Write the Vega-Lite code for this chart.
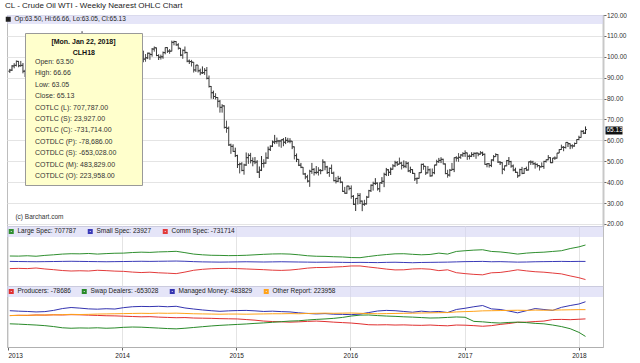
{
"$schema": "https://vega.github.io/schema/vega-lite/v6.json",
"background": "white",
"padding": {"left": 4, "top": 1, "right": 0, "bottom": 0},
"bounds": "flush",
"spacing": 0,
"title": {"text": "CL - Crude Oil WTI - Weekly Nearest OHLC Chart", "anchor": "start", "frame": "group", "font": "Liberation Sans", "fontSize": 8, "fontWeight": "normal", "color": "#222", "offset": 2, "dx": -2},
"resolve": {"scale": {"color": "independent", "y": "independent"}, "legend": {"color": "independent"}},
"config": {
  "view": {"stroke": "#bdbdbd", "strokeWidth": 1},
  "font": "Liberation Sans",
  "axis": {"labelFont": "Liberation Sans", "labelFontSize": 6.5, "labelColor": "#333", "gridColor": "#e4e4e4", "tickColor": "#666", "domainColor": "#c8c8c8"},
  "legend": {"labelFont": "Liberation Sans", "titleFont": "Liberation Sans"}
},
"datasets": {
"ohlc": [
{"d":"2013-01-07","o":93.1,"h":94.2,"l":92.3,"c":93.6},
{"d":"2013-01-14","o":93.6,"h":96.0,"l":93.2,"c":95.6},
{"d":"2013-01-21","o":95.6,"h":96.9,"l":94.5,"c":95.9},
{"d":"2013-01-28","o":95.9,"h":98.2,"l":95.4,"c":97.8},
{"d":"2013-02-04","o":97.8,"h":98.0,"l":95.0,"c":95.7},
{"d":"2013-02-11","o":95.7,"h":98.0,"l":95.3,"c":95.9},
{"d":"2013-02-18","o":95.9,"h":97.0,"l":92.1,"c":93.1},
{"d":"2013-02-25","o":93.1,"h":93.8,"l":90.3,"c":90.7},
{"d":"2013-03-04","o":90.7,"h":92.5,"l":89.3,"c":91.9},
{"d":"2013-03-11","o":91.9,"h":94.0,"l":91.4,"c":93.5},
{"d":"2013-03-18","o":93.5,"h":94.3,"l":91.9,"c":93.7},
{"d":"2013-03-25","o":93.7,"h":97.8,"l":93.5,"c":97.2},
{"d":"2013-04-01","o":97.2,"h":97.8,"l":92.3,"c":92.7},
{"d":"2013-04-08","o":92.7,"h":94.9,"l":90.8,"c":91.3},
{"d":"2013-04-15","o":91.3,"h":91.6,"l":86.1,"c":88.0},
{"d":"2013-04-22","o":88.0,"h":93.5,"l":87.4,"c":93.0},
{"d":"2013-04-29","o":93.0,"h":96.2,"l":90.4,"c":95.6},
{"d":"2013-05-06","o":95.6,"h":97.1,"l":94.8,"c":96.0},
{"d":"2013-05-13","o":96.0,"h":96.6,"l":93.3,"c":96.0},
{"d":"2013-05-20","o":96.0,"h":96.9,"l":93.0,"c":94.2},
{"d":"2013-05-27","o":94.2,"h":95.6,"l":90.9,"c":92.0},
{"d":"2013-06-03","o":92.0,"h":96.2,"l":91.4,"c":96.0},
{"d":"2013-06-10","o":96.0,"h":98.3,"l":94.8,"c":97.9},
{"d":"2013-06-17","o":97.9,"h":99.0,"l":93.0,"c":93.7},
{"d":"2013-06-24","o":93.7,"h":97.2,"l":93.0,"c":96.6},
{"d":"2013-07-01","o":96.6,"h":103.8,"l":95.9,"c":103.2},
{"d":"2013-07-08","o":103.2,"h":106.3,"l":100.9,"c":106.0},
{"d":"2013-07-15","o":106.0,"h":108.9,"l":104.9,"c":108.1},
{"d":"2013-07-22","o":108.1,"h":108.5,"l":103.6,"c":104.7},
{"d":"2013-07-29","o":104.7,"h":107.4,"l":103.9,"c":106.9},
{"d":"2013-08-05","o":106.9,"h":107.3,"l":102.2,"c":106.0},
{"d":"2013-08-12","o":106.0,"h":108.2,"l":104.8,"c":107.5},
{"d":"2013-08-19","o":107.5,"h":107.9,"l":103.0,"c":106.4},
{"d":"2013-08-26","o":106.4,"h":112.2,"l":105.5,"c":107.7},
{"d":"2013-09-02","o":107.7,"h":110.7,"l":106.4,"c":110.5},
{"d":"2013-09-09","o":110.5,"h":110.5,"l":106.8,"c":108.2},
{"d":"2013-09-16","o":108.2,"h":109.0,"l":104.2,"c":104.7},
{"d":"2013-09-23","o":104.7,"h":105.0,"l":101.9,"c":102.9},
{"d":"2013-09-30","o":102.9,"h":104.4,"l":100.9,"c":103.8},
{"d":"2013-10-07","o":103.8,"h":104.3,"l":101.2,"c":102.0},
{"d":"2013-10-14","o":102.0,"h":103.1,"l":100.3,"c":100.8},
{"d":"2013-10-21","o":100.8,"h":101.3,"l":96.7,"c":97.9},
{"d":"2013-10-28","o":97.9,"h":98.5,"l":94.3,"c":94.6},
{"d":"2013-11-04","o":94.6,"h":95.7,"l":93.6,"c":94.6},
{"d":"2013-11-11","o":94.6,"h":95.5,"l":92.5,"c":93.8},
{"d":"2013-11-18","o":93.8,"h":95.6,"l":92.5,"c":94.8},
{"d":"2013-11-25","o":94.8,"h":95.0,"l":91.8,"c":92.7},
{"d":"2013-12-02","o":92.7,"h":98.0,"l":92.3,"c":97.7},
{"d":"2013-12-09","o":97.7,"h":98.7,"l":96.1,"c":96.6},
{"d":"2013-12-16","o":96.6,"h":99.5,"l":96.2,"c":99.3},
{"d":"2013-12-23","o":99.3,"h":100.6,"l":98.6,"c":100.3},
{"d":"2013-12-30","o":100.3,"h":100.4,"l":93.6,"c":94.0},
{"d":"2014-01-06","o":94.0,"h":94.5,"l":91.2,"c":92.7},
{"d":"2014-01-13","o":92.7,"h":94.8,"l":91.2,"c":94.4},
{"d":"2014-01-20","o":94.4,"h":97.8,"l":94.1,"c":96.6},
{"d":"2014-01-27","o":96.6,"h":98.2,"l":95.2,"c":97.5},
{"d":"2014-02-03","o":97.5,"h":100.4,"l":96.1,"c":99.9},
{"d":"2014-02-10","o":99.9,"h":100.9,"l":98.9,"c":100.3},
{"d":"2014-02-17","o":100.3,"h":103.4,"l":99.6,"c":102.2},
{"d":"2014-02-24","o":102.2,"h":103.0,"l":100.6,"c":102.6},
{"d":"2014-03-03","o":102.6,"h":105.2,"l":100.6,"c":102.6},
{"d":"2014-03-10","o":102.6,"h":102.9,"l":97.4,"c":98.9},
{"d":"2014-03-17","o":98.9,"h":101.3,"l":97.7,"c":99.5},
{"d":"2014-03-24","o":99.5,"h":102.0,"l":98.9,"c":101.7},
{"d":"2014-03-31","o":101.7,"h":101.9,"l":98.6,"c":101.1},
{"d":"2014-04-07","o":101.1,"h":104.2,"l":100.1,"c":103.7},
{"d":"2014-04-14","o":103.7,"h":104.9,"l":102.5,"c":104.3},
{"d":"2014-04-21","o":104.3,"h":104.4,"l":100.3,"c":100.6},
{"d":"2014-04-28","o":100.6,"h":101.2,"l":98.5,"c":99.8},
{"d":"2014-05-05","o":99.8,"h":101.0,"l":98.7,"c":100.0},
{"d":"2014-05-12","o":100.0,"h":102.5,"l":99.1,"c":102.0},
{"d":"2014-05-19","o":102.0,"h":104.5,"l":101.2,"c":104.4},
{"d":"2014-05-26","o":104.4,"h":104.6,"l":101.9,"c":102.7},
{"d":"2014-06-02","o":102.7,"h":103.7,"l":101.5,"c":102.7},
{"d":"2014-06-09","o":102.7,"h":107.7,"l":102.6,"c":106.9},
{"d":"2014-06-16","o":106.9,"h":107.7,"l":105.5,"c":107.3},
{"d":"2014-06-23","o":107.3,"h":107.5,"l":105.3,"c":105.7},
{"d":"2014-06-30","o":105.7,"h":106.5,"l":103.5,"c":104.1},
{"d":"2014-07-07","o":104.1,"h":104.2,"l":100.3,"c":100.8},
{"d":"2014-07-14","o":100.8,"h":103.5,"l":99.1,"c":103.1},
{"d":"2014-07-21","o":103.1,"h":104.9,"l":101.5,"c":102.1},
{"d":"2014-07-28","o":102.1,"h":102.3,"l":97.4,"c":97.9},
{"d":"2014-08-04","o":97.9,"h":98.7,"l":96.6,"c":97.7},
{"d":"2014-08-11","o":97.7,"h":98.5,"l":95.4,"c":97.4},
{"d":"2014-08-18","o":97.4,"h":97.5,"l":92.5,"c":93.7},
{"d":"2014-08-25","o":93.7,"h":96.1,"l":92.8,"c":96.0},
{"d":"2014-09-01","o":96.0,"h":96.0,"l":92.5,"c":93.3},
{"d":"2014-09-08","o":93.3,"h":94.3,"l":91.2,"c":92.3},
{"d":"2014-09-15","o":92.3,"h":95.4,"l":91.8,"c":92.4},
{"d":"2014-09-22","o":92.4,"h":94.6,"l":91.4,"c":93.5},
{"d":"2014-09-29","o":93.5,"h":95.1,"l":89.2,"c":89.7},
{"d":"2014-10-06","o":89.7,"h":91.0,"l":85.3,"c":85.8},
{"d":"2014-10-13","o":85.8,"h":86.0,"l":80.0,"c":82.8},
{"d":"2014-10-20","o":82.8,"h":83.8,"l":79.8,"c":81.0},
{"d":"2014-10-27","o":81.0,"h":82.5,"l":79.6,"c":80.5},
{"d":"2014-11-03","o":80.5,"h":80.6,"l":75.8,"c":78.7},
{"d":"2014-11-10","o":78.7,"h":79.3,"l":73.3,"c":75.8},
{"d":"2014-11-17","o":75.8,"h":77.3,"l":73.3,"c":76.5},
{"d":"2014-11-24","o":76.5,"h":76.7,"l":65.7,"c":66.2},
{"d":"2014-12-01","o":66.2,"h":69.4,"l":63.7,"c":65.8},
{"d":"2014-12-08","o":65.8,"h":66.6,"l":57.4,"c":57.8},
{"d":"2014-12-15","o":57.8,"h":58.4,"l":53.6,"c":57.1},
{"d":"2014-12-22","o":57.1,"h":58.1,"l":54.5,"c":54.7},
{"d":"2014-12-29","o":54.7,"h":56.5,"l":52.0,"c":52.7},
{"d":"2015-01-05","o":52.7,"h":53.1,"l":46.8,"c":48.4},
{"d":"2015-01-12","o":48.4,"h":49.3,"l":44.2,"c":48.7},
{"d":"2015-01-19","o":48.7,"h":49.5,"l":45.2,"c":45.6},
{"d":"2015-01-26","o":45.6,"h":48.8,"l":43.6,"c":48.2},
{"d":"2015-02-02","o":48.2,"h":54.2,"l":47.8,"c":51.7},
{"d":"2015-02-09","o":51.7,"h":53.8,"l":48.8,"c":52.8},
{"d":"2015-02-16","o":52.8,"h":54.0,"l":49.0,"c":50.3},
{"d":"2015-02-23","o":50.3,"h":51.8,"l":47.6,"c":49.8},
{"d":"2015-03-02","o":49.8,"h":52.0,"l":48.6,"c":49.6},
{"d":"2015-03-09","o":49.6,"h":50.5,"l":44.4,"c":44.8},
{"d":"2015-03-16","o":44.8,"h":47.5,"l":42.0,"c":45.7},
{"d":"2015-03-23","o":45.7,"h":52.5,"l":45.3,"c":48.9},
{"d":"2015-03-30","o":48.9,"h":50.9,"l":47.0,"c":49.1},
{"d":"2015-04-06","o":49.1,"h":54.2,"l":48.8,"c":51.6},
{"d":"2015-04-13","o":51.6,"h":57.0,"l":51.1,"c":55.7},
{"d":"2015-04-20","o":55.7,"h":57.6,"l":54.9,"c":57.2},
{"d":"2015-04-27","o":57.2,"h":59.9,"l":56.8,"c":59.2},
{"d":"2015-05-04","o":59.2,"h":62.6,"l":58.2,"c":59.4},
{"d":"2015-05-11","o":59.4,"h":61.3,"l":58.4,"c":59.7},
{"d":"2015-05-18","o":59.7,"h":60.2,"l":57.0,"c":59.7},
{"d":"2015-05-25","o":59.7,"h":60.4,"l":56.5,"c":60.3},
{"d":"2015-06-01","o":60.3,"h":61.1,"l":57.2,"c":59.1},
{"d":"2015-06-08","o":59.1,"h":61.6,"l":58.2,"c":60.0},
{"d":"2015-06-15","o":60.0,"h":61.2,"l":58.8,"c":59.6},
{"d":"2015-06-22","o":59.6,"h":61.0,"l":58.6,"c":59.6},
{"d":"2015-06-29","o":59.6,"h":59.7,"l":55.8,"c":56.9},
{"d":"2015-07-06","o":56.9,"h":57.0,"l":50.9,"c":52.7},
{"d":"2015-07-13","o":52.7,"h":53.7,"l":49.6,"c":50.9},
{"d":"2015-07-20","o":50.9,"h":51.0,"l":47.7,"c":48.1},
{"d":"2015-07-27","o":48.1,"h":49.2,"l":46.7,"c":47.1},
{"d":"2015-08-03","o":47.1,"h":47.2,"l":43.6,"c":43.9},
{"d":"2015-08-10","o":43.9,"h":44.4,"l":41.4,"c":42.5},
{"d":"2015-08-17","o":42.5,"h":43.5,"l":39.9,"c":40.5},
{"d":"2015-08-24","o":40.5,"h":45.9,"l":37.8,"c":45.2},
{"d":"2015-08-31","o":45.2,"h":49.2,"l":44.0,"c":46.1},
{"d":"2015-09-07","o":46.1,"h":46.7,"l":43.2,"c":44.6},
{"d":"2015-09-14","o":44.6,"h":47.7,"l":43.8,"c":44.7},
{"d":"2015-09-21","o":44.7,"h":47.1,"l":43.2,"c":45.7},
{"d":"2015-09-28","o":45.7,"h":46.2,"l":43.8,"c":45.5},
{"d":"2015-10-05","o":45.5,"h":50.9,"l":45.3,"c":49.6},
{"d":"2015-10-12","o":49.6,"h":49.9,"l":45.7,"c":47.3},
{"d":"2015-10-19","o":47.3,"h":47.8,"l":43.9,"c":44.6},
{"d":"2015-10-26","o":44.6,"h":47.0,"l":42.6,"c":46.6},
{"d":"2015-11-02","o":46.6,"h":48.4,"l":44.0,"c":44.3},
{"d":"2015-11-09","o":44.3,"h":45.0,"l":40.4,"c":40.7},
{"d":"2015-11-16","o":40.7,"h":42.4,"l":39.4,"c":40.4},
{"d":"2015-11-23","o":40.4,"h":43.0,"l":40.0,"c":41.7},
{"d":"2015-11-30","o":41.7,"h":42.6,"l":39.5,"c":40.0},
{"d":"2015-12-07","o":40.0,"h":40.2,"l":35.4,"c":35.6},
{"d":"2015-12-14","o":35.6,"h":37.7,"l":34.5,"c":34.7},
{"d":"2015-12-21","o":34.7,"h":38.3,"l":34.4,"c":38.1},
{"d":"2015-12-28","o":38.1,"h":38.2,"l":36.1,"c":37.0},
{"d":"2016-01-04","o":37.0,"h":38.4,"l":32.1,"c":33.2},
{"d":"2016-01-11","o":33.2,"h":33.8,"l":29.1,"c":29.4},
{"d":"2016-01-18","o":29.4,"h":32.3,"l":26.2,"c":32.2},
{"d":"2016-01-25","o":32.2,"h":34.8,"l":29.3,"c":33.6},
{"d":"2016-02-01","o":33.6,"h":34.7,"l":29.5,"c":30.9},
{"d":"2016-02-08","o":30.9,"h":31.2,"l":26.1,"c":29.4},
{"d":"2016-02-15","o":29.4,"h":31.5,"l":28.7,"c":29.6},
{"d":"2016-02-22","o":29.6,"h":33.4,"l":29.3,"c":32.8},
{"d":"2016-02-29","o":32.8,"h":36.3,"l":32.6,"c":35.9},
{"d":"2016-03-07","o":35.9,"h":38.9,"l":35.3,"c":38.5},
{"d":"2016-03-14","o":38.5,"h":40.2,"l":36.0,"c":39.4},
{"d":"2016-03-21","o":39.4,"h":41.9,"l":38.6,"c":39.5},
{"d":"2016-03-28","o":39.5,"h":39.8,"l":36.0,"c":36.8},
{"d":"2016-04-04","o":36.8,"h":39.8,"l":35.2,"c":39.7},
{"d":"2016-04-11","o":39.7,"h":42.4,"l":39.1,"c":40.4},
{"d":"2016-04-18","o":40.4,"h":44.5,"l":37.6,"c":43.7},
{"d":"2016-04-25","o":43.7,"h":46.8,"l":42.9,"c":45.9},
{"d":"2016-05-02","o":45.9,"h":46.2,"l":43.0,"c":44.7},
{"d":"2016-05-09","o":44.7,"h":47.0,"l":43.4,"c":46.2},
{"d":"2016-05-16","o":46.2,"h":48.6,"l":46.0,"c":47.8},
{"d":"2016-05-23","o":47.8,"h":50.2,"l":47.2,"c":49.3},
{"d":"2016-05-30","o":49.3,"h":50.1,"l":47.8,"c":48.6},
{"d":"2016-06-06","o":48.6,"h":51.7,"l":48.5,"c":49.1},
{"d":"2016-06-13","o":49.1,"h":49.7,"l":46.1,"c":48.0},
{"d":"2016-06-20","o":48.0,"h":50.4,"l":46.7,"c":47.6},
{"d":"2016-06-27","o":47.6,"h":50.0,"l":46.7,"c":49.0},
{"d":"2016-07-04","o":49.0,"h":49.6,"l":44.8,"c":45.4},
{"d":"2016-07-11","o":45.4,"h":47.4,"l":44.4,"c":46.0},
{"d":"2016-07-18","o":46.0,"h":46.2,"l":43.9,"c":44.2},
{"d":"2016-07-25","o":44.2,"h":44.3,"l":40.6,"c":41.6},
{"d":"2016-08-01","o":41.6,"h":42.2,"l":39.2,"c":41.8},
{"d":"2016-08-08","o":41.8,"h":44.7,"l":41.7,"c":44.5},
{"d":"2016-08-15","o":44.5,"h":48.8,"l":44.4,"c":48.5},
{"d":"2016-08-22","o":48.5,"h":48.9,"l":46.0,"c":47.6},
{"d":"2016-08-29","o":47.6,"h":47.7,"l":43.5,"c":44.4},
{"d":"2016-09-05","o":44.4,"h":47.7,"l":44.2,"c":45.9},
{"d":"2016-09-12","o":45.9,"h":46.5,"l":42.6,"c":43.0},
{"d":"2016-09-19","o":43.0,"h":46.5,"l":42.8,"c":44.5},
{"d":"2016-09-26","o":44.5,"h":48.3,"l":43.8,"c":48.2},
{"d":"2016-10-03","o":48.2,"h":50.7,"l":48.0,"c":49.8},
{"d":"2016-10-10","o":49.8,"h":51.6,"l":49.2,"c":50.4},
{"d":"2016-10-17","o":50.4,"h":51.9,"l":49.1,"c":50.9},
{"d":"2016-10-24","o":50.9,"h":51.2,"l":48.5,"c":48.7},
{"d":"2016-10-31","o":48.7,"h":48.9,"l":43.8,"c":44.1},
{"d":"2016-11-07","o":44.1,"h":45.9,"l":42.2,"c":43.4},
{"d":"2016-11-14","o":43.4,"h":46.3,"l":42.7,"c":45.7},
{"d":"2016-11-21","o":45.7,"h":49.2,"l":45.6,"c":46.1},
{"d":"2016-11-28","o":46.1,"h":51.8,"l":44.8,"c":51.7},
{"d":"2016-12-05","o":51.7,"h":52.4,"l":49.9,"c":51.5},
{"d":"2016-12-12","o":51.5,"h":53.9,"l":49.8,"c":51.9},
{"d":"2016-12-19","o":51.9,"h":53.4,"l":51.2,"c":53.0},
{"d":"2016-12-26","o":53.0,"h":54.3,"l":52.1,"c":53.7},
{"d":"2017-01-02","o":53.7,"h":55.2,"l":52.1,"c":54.0},
{"d":"2017-01-09","o":54.0,"h":54.1,"l":50.7,"c":52.4},
{"d":"2017-01-16","o":52.4,"h":53.2,"l":50.9,"c":52.4},
{"d":"2017-01-23","o":52.4,"h":54.3,"l":52.0,"c":53.2},
{"d":"2017-01-30","o":53.2,"h":54.2,"l":52.1,"c":53.8},
{"d":"2017-02-06","o":53.8,"h":54.1,"l":51.2,"c":53.9},
{"d":"2017-02-13","o":53.9,"h":54.0,"l":52.4,"c":53.4},
{"d":"2017-02-20","o":53.4,"h":54.9,"l":53.2,"c":54.0},
{"d":"2017-02-27","o":54.0,"h":54.6,"l":52.5,"c":53.3},
{"d":"2017-03-06","o":53.3,"h":53.7,"l":48.4,"c":48.5},
{"d":"2017-03-13","o":48.5,"h":49.1,"l":47.1,"c":48.8},
{"d":"2017-03-20","o":48.8,"h":49.1,"l":47.0,"c":48.0},
{"d":"2017-03-27","o":48.0,"h":50.9,"l":47.2,"c":50.6},
{"d":"2017-04-03","o":50.6,"h":52.9,"l":50.0,"c":52.2},
{"d":"2017-04-10","o":52.2,"h":53.8,"l":52.1,"c":53.2},
{"d":"2017-04-17","o":53.2,"h":53.4,"l":49.2,"c":49.6},
{"d":"2017-04-24","o":49.6,"h":50.0,"l":48.2,"c":49.3},
{"d":"2017-05-01","o":49.3,"h":49.5,"l":43.8,"c":46.2},
{"d":"2017-05-08","o":46.2,"h":47.9,"l":45.5,"c":47.8},
{"d":"2017-05-15","o":47.8,"h":50.6,"l":47.6,"c":50.3},
{"d":"2017-05-22","o":50.3,"h":52.0,"l":48.2,"c":49.8},
{"d":"2017-05-29","o":49.8,"h":50.2,"l":46.9,"c":47.7},
{"d":"2017-06-05","o":47.7,"h":48.4,"l":45.2,"c":45.8},
{"d":"2017-06-12","o":45.8,"h":46.9,"l":44.4,"c":44.7},
{"d":"2017-06-19","o":44.7,"h":44.9,"l":42.1,"c":43.0},
{"d":"2017-06-26","o":43.0,"h":46.4,"l":42.9,"c":46.0},
{"d":"2017-07-03","o":46.0,"h":47.3,"l":43.8,"c":44.2},
{"d":"2017-07-10","o":44.2,"h":46.7,"l":44.0,"c":46.5},
{"d":"2017-07-17","o":46.5,"h":47.4,"l":45.4,"c":45.8},
{"d":"2017-07-24","o":45.8,"h":49.8,"l":45.6,"c":49.7},
{"d":"2017-07-31","o":49.7,"h":50.4,"l":48.3,"c":49.6},
{"d":"2017-08-07","o":49.6,"h":50.2,"l":48.3,"c":48.8},
{"d":"2017-08-14","o":48.8,"h":49.5,"l":46.5,"c":48.5},
{"d":"2017-08-21","o":48.5,"h":48.9,"l":47.1,"c":47.9},
{"d":"2017-08-28","o":47.9,"h":48.1,"l":45.6,"c":47.3},
{"d":"2017-09-04","o":47.3,"h":49.4,"l":47.1,"c":47.5},
{"d":"2017-09-11","o":47.5,"h":50.2,"l":46.4,"c":49.9},
{"d":"2017-09-18","o":49.9,"h":50.8,"l":49.4,"c":50.7},
{"d":"2017-09-25","o":50.7,"h":52.9,"l":50.5,"c":51.7},
{"d":"2017-10-02","o":51.7,"h":51.9,"l":49.1,"c":49.3},
{"d":"2017-10-09","o":49.3,"h":51.6,"l":49.1,"c":51.5},
{"d":"2017-10-16","o":51.5,"h":52.3,"l":50.7,"c":51.5},
{"d":"2017-10-23","o":51.5,"h":54.0,"l":51.3,"c":53.9},
{"d":"2017-10-30","o":53.9,"h":55.8,"l":53.9,"c":55.6},
{"d":"2017-11-06","o":55.6,"h":57.9,"l":55.5,"c":56.7},
{"d":"2017-11-13","o":56.7,"h":57.2,"l":54.8,"c":56.6},
{"d":"2017-11-20","o":56.6,"h":59.0,"l":56.1,"c":59.0},
{"d":"2017-11-27","o":59.0,"h":59.0,"l":56.8,"c":58.4},
{"d":"2017-12-04","o":58.4,"h":58.5,"l":55.8,"c":57.4},
{"d":"2017-12-11","o":57.4,"h":58.1,"l":56.1,"c":57.3},
{"d":"2017-12-18","o":57.3,"h":58.9,"l":57.0,"c":58.5},
{"d":"2017-12-25","o":58.5,"h":60.5,"l":58.4,"c":60.4},
{"d":"2018-01-01","o":60.4,"h":62.2,"l":60.1,"c":61.4},
{"d":"2018-01-08","o":61.4,"h":64.8,"l":61.3,"c":64.3},
{"d":"2018-01-15","o":64.3,"h":64.9,"l":63.0,"c":63.4},
{"d":"2018-01-22","o":63.5,"h":66.66,"l":63.05,"c":65.13}
],
"cot": [
{"d":"2013-01-07","ls":250000,"ss":25000,"cs":-275000,"pr":30000,"sd":-240000,"mm":190000,"or":30000},
{"d":"2013-02-04","ls":245000,"ss":20000,"cs":-265000,"pr":40000,"sd":-250000,"mm":175000,"or":35000},
{"d":"2013-03-04","ls":260000,"ss":15000,"cs":-275000,"pr":35000,"sd":-265000,"mm":165000,"or":40000},
{"d":"2013-04-01","ls":240000,"ss":10000,"cs":-250000,"pr":50000,"sd":-280000,"mm":150000,"or":45000},
{"d":"2013-04-29","ls":275000,"ss":15000,"cs":-290000,"pr":45000,"sd":-300000,"mm":160000,"or":50000},
{"d":"2013-05-27","ls":300000,"ss":20000,"cs":-320000,"pr":55000,"sd":-330000,"mm":200000,"or":55000},
{"d":"2013-06-24","ls":330000,"ss":25000,"cs":-355000,"pr":50000,"sd":-370000,"mm":260000,"or":60000},
{"d":"2013-07-22","ls":345000,"ss":30000,"cs":-375000,"pr":60000,"sd":-385000,"mm":295000,"or":70000},
{"d":"2013-08-19","ls":340000,"ss":25000,"cs":-365000,"pr":55000,"sd":-375000,"mm":275000,"or":65000},
{"d":"2013-09-16","ls":355000,"ss":20000,"cs":-375000,"pr":45000,"sd":-380000,"mm":250000,"or":70000},
{"d":"2013-10-14","ls":330000,"ss":15000,"cs":-345000,"pr":35000,"sd":-370000,"mm":240000,"or":80000},
{"d":"2013-11-11","ls":350000,"ss":10000,"cs":-360000,"pr":25000,"sd":-385000,"mm":255000,"or":85000},
{"d":"2013-12-09","ls":365000,"ss":15000,"cs":-380000,"pr":20000,"sd":-375000,"mm":245000,"or":90000},
{"d":"2014-01-06","ls":370000,"ss":20000,"cs":-390000,"pr":10000,"sd":-355000,"mm":290000,"or":95000},
{"d":"2014-02-03","ls":395000,"ss":25000,"cs":-420000,"pr":0,"sd":-345000,"mm":320000,"or":100000},
{"d":"2014-03-03","ls":410000,"ss":30000,"cs":-440000,"pr":-10000,"sd":-350000,"mm":330000,"or":105000},
{"d":"2014-03-31","ls":400000,"ss":25000,"cs":-425000,"pr":-5000,"sd":-365000,"mm":325000,"or":100000},
{"d":"2014-04-28","ls":420000,"ss":30000,"cs":-450000,"pr":-20000,"sd":-380000,"mm":335000,"or":110000},
{"d":"2014-05-26","ls":430000,"ss":35000,"cs":-465000,"pr":-30000,"sd":-395000,"mm":320000,"or":105000},
{"d":"2014-06-23","ls":445000,"ss":40000,"cs":-485000,"pr":-40000,"sd":-405000,"mm":335000,"or":110000},
{"d":"2014-07-21","ls":390000,"ss":30000,"cs":-420000,"pr":-35000,"sd":-385000,"mm":280000,"or":100000},
{"d":"2014-08-18","ls":330000,"ss":15000,"cs":-345000,"pr":-50000,"sd":-360000,"mm":245000,"or":90000},
{"d":"2014-09-15","ls":300000,"ss":5000,"cs":-305000,"pr":-55000,"sd":-335000,"mm":215000,"or":85000},
{"d":"2014-10-13","ls":280000,"ss":0,"cs":-280000,"pr":-60000,"sd":-310000,"mm":190000,"or":80000},
{"d":"2014-11-10","ls":275000,"ss":-5000,"cs":-270000,"pr":-70000,"sd":-290000,"mm":170000,"or":75000},
{"d":"2014-12-08","ls":265000,"ss":0,"cs":-265000,"pr":-75000,"sd":-275000,"mm":185000,"or":80000},
{"d":"2015-01-05","ls":270000,"ss":5000,"cs":-275000,"pr":-80000,"sd":-260000,"mm":195000,"or":80000},
{"d":"2015-02-02","ls":280000,"ss":10000,"cs":-290000,"pr":-100000,"sd":-245000,"mm":200000,"or":75000},
{"d":"2015-03-02","ls":300000,"ss":5000,"cs":-305000,"pr":-120000,"sd":-225000,"mm":185000,"or":80000},
{"d":"2015-03-30","ls":320000,"ss":0,"cs":-320000,"pr":-150000,"sd":-210000,"mm":165000,"or":85000},
{"d":"2015-04-27","ls":335000,"ss":5000,"cs":-340000,"pr":-165000,"sd":-190000,"mm":175000,"or":90000},
{"d":"2015-05-25","ls":340000,"ss":10000,"cs":-350000,"pr":-175000,"sd":-170000,"mm":160000,"or":90000},
{"d":"2015-06-22","ls":330000,"ss":5000,"cs":-335000,"pr":-185000,"sd":-150000,"mm":150000,"or":95000},
{"d":"2015-07-20","ls":300000,"ss":0,"cs":-300000,"pr":-175000,"sd":-140000,"mm":120000,"or":90000},
{"d":"2015-08-17","ls":260000,"ss":-5000,"cs":-255000,"pr":-160000,"sd":-115000,"mm":100000,"or":100000},
{"d":"2015-09-14","ls":240000,"ss":-10000,"cs":-230000,"pr":-150000,"sd":-95000,"mm":85000,"or":105000},
{"d":"2015-10-12","ls":235000,"ss":-5000,"cs":-230000,"pr":-165000,"sd":-80000,"mm":95000,"or":110000},
{"d":"2015-11-09","ls":220000,"ss":-10000,"cs":-210000,"pr":-185000,"sd":-60000,"mm":75000,"or":105000},
{"d":"2015-12-07","ls":210000,"ss":-15000,"cs":-195000,"pr":-200000,"sd":-30000,"mm":70000,"or":110000},
{"d":"2016-01-04","ls":185000,"ss":-20000,"cs":-165000,"pr":-215000,"sd":15000,"mm":60000,"or":115000},
{"d":"2016-02-01","ls":180000,"ss":-15000,"cs":-165000,"pr":-240000,"sd":45000,"mm":80000,"or":105000},
{"d":"2016-02-29","ls":230000,"ss":-20000,"cs":-210000,"pr":-270000,"sd":50000,"mm":130000,"or":95000},
{"d":"2016-03-28","ls":275000,"ss":-25000,"cs":-250000,"pr":-275000,"sd":30000,"mm":180000,"or":90000},
{"d":"2016-04-25","ls":310000,"ss":-15000,"cs":-295000,"pr":-270000,"sd":15000,"mm":200000,"or":95000},
{"d":"2016-05-23","ls":340000,"ss":-10000,"cs":-330000,"pr":-280000,"sd":5000,"mm":190000,"or":100000},
{"d":"2016-06-20","ls":345000,"ss":-20000,"cs":-325000,"pr":-275000,"sd":-10000,"mm":165000,"or":105000},
{"d":"2016-07-18","ls":320000,"ss":-30000,"cs":-290000,"pr":-285000,"sd":-20000,"mm":140000,"or":110000},
{"d":"2016-08-15","ls":300000,"ss":-20000,"cs":-280000,"pr":-290000,"sd":-35000,"mm":175000,"or":115000},
{"d":"2016-09-12","ls":315000,"ss":-15000,"cs":-300000,"pr":-280000,"sd":-50000,"mm":150000,"or":120000},
{"d":"2016-10-10","ls":370000,"ss":-10000,"cs":-360000,"pr":-295000,"sd":-45000,"mm":165000,"or":125000},
{"d":"2016-11-07","ls":330000,"ss":-5000,"cs":-325000,"pr":-305000,"sd":-30000,"mm":130000,"or":130000},
{"d":"2016-12-05","ls":440000,"ss":5000,"cs":-445000,"pr":-280000,"sd":-15000,"mm":230000,"or":150000},
{"d":"2017-01-02","ls":470000,"ss":15000,"cs":-485000,"pr":-285000,"sd":-25000,"mm":270000,"or":160000},
{"d":"2017-01-30","ls":495000,"ss":20000,"cs":-515000,"pr":-300000,"sd":-160000,"mm":320000,"or":170000},
{"d":"2017-02-27","ls":510000,"ss":25000,"cs":-535000,"pr":-320000,"sd":-175000,"mm":360000,"or":185000},
{"d":"2017-03-27","ls":440000,"ss":10000,"cs":-450000,"pr":-300000,"sd":-200000,"mm":250000,"or":190000},
{"d":"2017-04-24","ls":420000,"ss":15000,"cs":-435000,"pr":-260000,"sd":-215000,"mm":230000,"or":195000},
{"d":"2017-05-22","ls":380000,"ss":5000,"cs":-385000,"pr":-230000,"sd":-195000,"mm":180000,"or":200000},
{"d":"2017-06-19","ls":330000,"ss":-5000,"cs":-325000,"pr":-190000,"sd":-185000,"mm":120000,"or":205000},
{"d":"2017-07-17","ls":370000,"ss":0,"cs":-370000,"pr":-185000,"sd":-200000,"mm":190000,"or":200000},
{"d":"2017-08-14","ls":395000,"ss":10000,"cs":-405000,"pr":-165000,"sd":-225000,"mm":260000,"or":210000},
{"d":"2017-09-11","ls":410000,"ss":15000,"cs":-425000,"pr":-150000,"sd":-240000,"mm":230000,"or":205000},
{"d":"2017-10-09","ls":440000,"ss":20000,"cs":-460000,"pr":-100000,"sd":-280000,"mm":200000,"or":210000},
{"d":"2017-11-06","ls":470000,"ss":25000,"cs":-495000,"pr":-95000,"sd":-330000,"mm":300000,"or":215000},
{"d":"2017-12-04","ls":560000,"ss":20000,"cs":-580000,"pr":-105000,"sd":-400000,"mm":360000,"or":220000},
{"d":"2018-01-01","ls":630000,"ss":25000,"cs":-655000,"pr":-90000,"sd":-520000,"mm":410000,"or":225000},
{"d":"2018-01-22","ls":707787,"ss":23927,"cs":-731714,"pr":-78686,"sd":-653028,"mm":483829,"or":223958}
]
},
"vconcat": [
{
 "width": 596, "height": 211,
 "resolve": {"axis": {"y": "independent"}},
 "layer": [
  {
   "data": {"values": [{}]},
   "mark": {"type": "rect", "color": "#d4d4f4", "opacity": 0.6},
   "encoding": {
     "y": {"datum": 120, "type": "quantitative", "scale": {"domain": [19, 120], "nice": false, "zero": false},
       "axis": {"orient": "right", "title": null, "values": [65.13], "format": ".2f", "grid": false, "domain": false, "offset": 2, "tickSize": 17, "tickWidth": 8, "tickColor": "#111", "labelColor": "#ffffff", "labelPadding": -16, "labelFontSize": 6.5}},
     "y2": {"datum": 115.7}
   }
  },
  {
   "data": {"name": "ohlc"},
   "mark": {"type": "rule", "color": "#333", "strokeWidth": 1},
   "encoding": {
     "x": {"field": "d", "type": "temporal", "scale": {"domain": [{"year": 2012, "month": 12, "date": 29}, {"year": 2018, "month": 3, "date": 19}]},
       "axis": {"title": null, "labels": false, "ticks": false, "domain": false, "grid": true, "tickCount": {"interval": "year", "step": 1}}},
     "y": {"field": "l", "type": "quantitative", "scale": {"domain": [19, 120], "nice": false, "zero": false},
       "axis": {"orient": "right", "title": null, "values": [20, 30, 40, 50, 60, 70, 80, 90, 100, 110, 120], "format": ".2f", "grid": true, "tickSize": 3, "labelPadding": 0.5, "domainWidth": 2}},
     "y2": {"field": "h"},
     "color": {"datum": "Op:63.50, Hi:66.66, Lo:63.05, Cl:65.13", "type": "nominal", "scale": {"range": ["#222"]},
       "legend": {"orient": "none", "legendX": -2, "legendY": 1, "title": null, "symbolType": "square", "symbolSize": 9, "symbolStrokeWidth": 2, "symbolFillColor": "#111", "labelFontSize": 6.5, "labelColor": "#222", "labelOffset": 3, "padding": 0}},
     "strokeDash": {"datum": "Open: 63.50", "type": "nominal",
       "scale": {"domain": ["Open: 63.50", "High: 66.66", "Low: 63.05", "Close: 65.13", "COTLC (L): 707,787.00", "COTLC (S): 23,927.00", "COTLC (C): -731,714.00", "COTDLC (P): -78,686.00", "COTDLC (S): -653,028.00", "COTDLC (M): 483,829.00", "COTDLC (O): 223,958.00"],
         "range": [[1,0],[1,0],[1,0],[1,0],[1,0],[1,0],[1,0],[1,0],[1,0],[1,0],[1,0]]},
       "legend": {"orient": "none", "legendX": 18, "legendY": 18, "direction": "vertical",
         "title": ["\u200b\u00a0\u00a0\u00a0\u00a0\u00a0\u00a0\u00a0\u00a0\u00a0\u00a0\u00a0[Mon. Jan 22, 2018]\u00a0\u00a0\u00a0\u00a0\u00a0\u00a0\u00a0\u00a0\u00a0\u00a0\u00a0\u200b", "\u200b\u00a0\u00a0\u00a0\u00a0\u00a0\u00a0\u00a0\u00a0\u00a0\u00a0\u00a0\u00a0\u00a0\u00a0\u00a0\u00a0\u00a0\u00a0\u00a0\u00a0\u00a0\u00a0CLH18"],
         "titleFontSize": 7, "titleFontWeight": "bold", "titleColor": "#111", "titleAnchor": "start", "titleAlign": "left", "titleLineHeight": 10.5, "titlePadding": 3,
         "labelFontSize": 7, "labelColor": "#333", "labelOffset": -2, "rowPadding": 3.4,
         "symbolType": "circle", "symbolSize": 0, "symbolOpacity": 0, "symbolStrokeWidth": 0,
         "padding": 5, "fillColor": "#ffffcc", "strokeColor": "#999999", "cornerRadius": 0}}
   }
  },
  {
   "data": {"name": "ohlc"},
   "mark": {"type": "rule", "color": "#333", "strokeWidth": 1, "xOffset": -1.5},
   "encoding": {
     "x": {"field": "d", "type": "temporal", "axis": null},
     "x2": {"field": "d"},
     "y": {"field": "o", "type": "quantitative", "axis": null}
   }
  },
  {
   "data": {"name": "ohlc"},
   "mark": {"type": "rule", "color": "#333", "strokeWidth": 1, "x2Offset": 1.5},
   "encoding": {
     "x": {"field": "d", "type": "temporal", "axis": null},
     "x2": {"field": "d"},
     "y": {"field": "c", "type": "quantitative", "axis": null}
   }
  },
  {
   "data": {"values": [{"t": "(c) Barchart.com"}]},
   "mark": {"type": "text", "align": "left", "baseline": "middle", "fontSize": 6.5, "font": "Liberation Sans", "color": "#333"},
   "encoding": {
     "x": {"datum": {"year": 2013, "month": 1, "date": 25}, "type": "temporal", "axis": null},
     "y": {"datum": 23.3, "type": "quantitative", "axis": null},
     "text": {"field": "t"}
   }
  }
 ]
},
{
 "width": 596, "height": 60,
 "layer": [
  {
   "data": {"values": [{}]},
   "mark": {"type": "rect", "color": "#d4d4f4", "opacity": 0.6},
   "encoding": {
     "y": {"datum": 1500000, "type": "quantitative", "scale": {"domain": [-1000000, 1500000], "nice": false, "zero": false},
       "axis": {"orient": "right", "title": null, "values": [1000000, 500000, 0, -500000, -1000000], "format": "d", "grid": true, "tickSize": 3, "labelPadding": 0.5, "domainWidth": 2}},
     "y2": {"datum": 1040000}
   }
  },
  {
   "data": {"name": "cot"},
   "transform": [{"fold": ["ls", "ss", "cs"], "as": ["s", "v"]}],
   "mark": {"type": "line", "strokeWidth": 1},
   "encoding": {
     "x": {"field": "d", "type": "temporal", "scale": {"domain": [{"year": 2012, "month": 12, "date": 29}, {"year": 2018, "month": 3, "date": 19}]},
       "axis": {"title": null, "labels": false, "ticks": false, "domain": false, "grid": true, "tickCount": {"interval": "year", "step": 1}}},
     "y": {"field": "v", "type": "quantitative", "scale": {"domain": [-1000000, 1500000], "nice": false, "zero": false}, "axis": null},
     "color": {"field": "s", "type": "nominal", "scale": {"domain": ["ls", "ss", "cs"], "range": ["#2f8f2f", "#3a3ab8", "#e33b3b"]},
       "legend": {"orient": "none", "legendX": 1, "legendY": 2, "direction": "horizontal", "title": null, "symbolType": "square", "symbolSize": 9, "symbolStrokeWidth": 2, "labelFontSize": 6.5, "labelColor": "#222", "labelOffset": 3, "columnPadding": 7, "padding": 0,
         "labelExpr": "datum.label == 'ls' ? 'Large Spec: 707787' : datum.label == 'ss' ? 'Small Spec: 23927' : 'Comm Spec: -731714'"}}
   }
  }
 ]
},
{
 "width": 596, "height": 61,
 "layer": [
  {
   "data": {"values": [{}]},
   "mark": {"type": "rect", "color": "#d4d4f4", "opacity": 0.6},
   "encoding": {
     "y": {"datum": 1000000, "type": "quantitative", "scale": {"domain": [-1000000, 1000000], "nice": false, "zero": false},
       "axis": {"orient": "right", "title": null, "values": [500000, 0, -500000, -1000000], "format": "d", "grid": true, "tickSize": 3, "labelPadding": 0.5, "domainWidth": 2}},
     "y2": {"datum": 640000}
   }
  },
  {
   "data": {"name": "cot"},
   "transform": [{"fold": ["pr", "sd", "mm", "or"], "as": ["s", "v"]}],
   "mark": {"type": "line", "strokeWidth": 1},
   "encoding": {
     "x": {"field": "d", "type": "temporal", "scale": {"domain": [{"year": 2012, "month": 12, "date": 29}, {"year": 2018, "month": 3, "date": 19}]},
       "axis": {"title": null, "format": "%Y", "tickCount": {"interval": "year", "step": 1}, "labelFlush": 3, "labelPadding": 2, "tickSize": 3, "labelColor": "#222", "grid": true, "domainColor": "#b0b0b0"}},
     "y": {"field": "v", "type": "quantitative", "scale": {"domain": [-1000000, 1000000], "nice": false, "zero": false}, "axis": null},
     "color": {"field": "s", "type": "nominal", "scale": {"domain": ["pr", "sd", "mm", "or"], "range": ["#e03030", "#2a8a2a", "#3434b0", "#ffa31a"]},
       "legend": {"orient": "none", "legendX": 1, "legendY": 2, "direction": "horizontal", "title": null, "symbolType": "square", "symbolSize": 9, "symbolStrokeWidth": 2, "labelFontSize": 6.5, "labelColor": "#222", "labelOffset": 3, "columnPadding": 7, "padding": 0,
         "labelExpr": "datum.label == 'pr' ? 'Producers: -78686' : datum.label == 'sd' ? 'Swap Dealers: -653028' : datum.label == 'mm' ? 'Managed Money: 483829' : 'Other Report: 223958'"}}
   }
  }
 ]
}
]
}
